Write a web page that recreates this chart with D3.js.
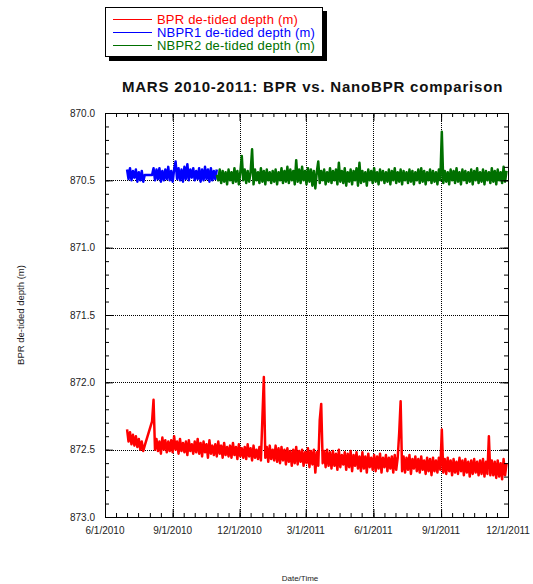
<!DOCTYPE html>
<html>
<head>
<meta charset="utf-8">
<script src="https://cdn.jsdelivr.net/npm/d3@7"></script>
<style>
  html, body { margin: 0; padding: 0; background: #fff; }
  svg { display: block; font-family: "Liberation Sans", Arial, Helvetica, sans-serif; }
</style>
</head>
<body>
<svg id="chart" width="533" height="584"></svg>
<script>
// ---- data -------------------------------------------------------------
const chartTitle = "MARS 2010-2011: BPR vs. NanoBPR comparison";
const xAxisTitle = "Date/Time";
const yAxisTitle = "BPR de-tided depth (m)";

const xTickLabels = ["6/1/2010", "9/1/2010", "12/1/2010", "3/1/2011", "6/1/2011", "9/1/2011", "12/1/2011"];
const yTickValues = [870.0, 870.5, 871.0, 871.5, 872.0, 872.5, 873.0];

const seriesNames = ["BPR de-tided depth (m)", "NBPR1 de-tided depth (m)", "NBPR2 de-tided depth (m)"];
const seriesColors = ["#ff0000", "#0000ff", "#007000"];

// readings every two days; null = no recording
const sampleStepDays = 2;

const bprStart = "2010-07-01";
const bprValues = [
  872.35, 872.44, 872.37, 872.46, 872.39, 872.47, 872.40, 872.48, 872.42, 872.50,
  872.44, 872.51, 872.47, null, null, null, null, 872.29, 872.13,
  872.50, 872.42, 872.51, 872.44, 872.53, 872.41, 872.50, 872.43, 872.52, 872.44,
  872.51, 872.43, 872.52, 872.40, 872.50, 872.44, 872.53, 872.42, 872.51, 872.45,
  872.52, 872.44, 872.54, 872.43, 872.51, 872.46, 872.53, 872.44, 872.52, 872.42,
  872.53, 872.45, 872.55, 872.44, 872.52, 872.46, 872.56, 872.43, 872.53, 872.47,
  872.54, 872.46, 872.55, 872.44, 872.53, 872.47, 872.56, 872.45, 872.54, 872.48,
  872.55, 872.47, 872.56, 872.45, 872.54, 872.48, 872.57, 872.46, 872.55, 872.49,
  872.56, 872.48, 872.57, 872.46, 872.55, 872.49, 872.58, 872.47, 872.56, 872.50,
  872.57, 872.48, 872.58, 872.27, 871.96, 872.56, 872.48, 872.59, 872.47, 872.57,
  872.50, 872.58, 872.47, 872.59, 872.49, 872.60, 872.48, 872.58, 872.50, 872.61,
  872.49, 872.59, 872.51, 872.62, 872.50, 872.60, 872.48, 872.61, 872.51, 872.59,
  872.50, 872.62, 872.52, 872.60, 872.49, 872.63, 872.51, 872.61, 872.50, 872.67,
  872.52, 872.62, 872.28, 872.16, 872.60, 872.51, 872.63, 872.50, 872.62, 872.52,
  872.64, 872.51, 872.62, 872.53, 872.65, 872.50, 872.63, 872.54, 872.61, 872.52,
  872.65, 872.53, 872.63, 872.51, 872.66, 872.54, 872.62, 872.52, 872.64, 872.55,
  872.66, 872.52, 872.64, 872.55, 872.67, 872.53, 872.63, 872.56, 872.65, 872.54,
  872.66, 872.55, 872.64, 872.53, 872.67, 872.56, 872.63, 872.54, 872.66, 872.56,
  872.64, 872.55, 872.67, 872.54, 872.65, 872.56, 872.38, 872.14, 872.66, 872.55,
  872.67, 872.56, 872.65, 872.54, 872.68, 872.57, 872.64, 872.55, 872.66, 872.57,
  872.67, 872.55, 872.65, 872.58, 872.68, 872.56, 872.66, 872.57, 872.69, 872.56,
  872.66, 872.58, 872.67, 872.56, 872.65, 872.35, 872.67, 872.57, 872.68, 872.56,
  872.66, 872.58, 872.69, 872.57, 872.67, 872.59, 872.68, 872.56, 872.66, 872.58,
  872.69, 872.57, 872.67, 872.59, 872.70, 872.58, 872.68, 872.57, 872.67, 872.59,
  872.69, 872.58, 872.68, 872.57, 872.70, 872.59, 872.68, 872.40, 872.69, 872.58,
  872.69, 872.59, 872.71, 872.58, 872.70, 872.60, 872.72, 872.57, 872.69, 872.60
];

const nbpr1Start = "2010-07-01";
const nbpr1Values = [
  870.42, 870.49, 870.41, 870.50, 870.43, 870.48, 870.42, 870.51, 870.44, 870.50,
  870.43, 870.51, 870.46, null, null, null, null,
  870.46, 870.41, 870.50, 870.42, 870.49, 870.41, 870.51, 870.43, 870.50, 870.42,
  870.49, 870.40, 870.50, 870.43, 870.51, 870.42, 870.36, 870.49, 870.41, 870.50,
  870.42, 870.51, 870.40, 870.49, 870.38, 870.50, 870.42, 870.48, 870.41, 870.50,
  870.43, 870.49, 870.41, 870.51, 870.42, 870.50, 870.40, 870.49, 870.42, 870.51,
  870.41, 870.50, 870.43, 870.49, 870.42
];

const nbpr2Start = "2010-10-31";
const nbpr2Values = [
  870.46, 870.50, 870.42, 870.52, 870.43, 870.51, 870.44, 870.53, 870.42, 870.50,
  870.44, 870.52, 870.41, 870.51, 870.43, 870.53, 870.44, 870.32, 870.50, 870.42,
  870.52, 870.43, 870.51, 870.44, 870.27, 870.53, 870.42, 870.50, 870.44, 870.52,
  870.41, 870.51, 870.43, 870.53, 870.42, 870.50, 870.44, 870.52, 870.43, 870.51,
  870.42, 870.53, 870.44, 870.50, 870.41, 870.52, 870.43, 870.51, 870.40, 870.52,
  870.42, 870.50, 870.43, 870.53, 870.35, 870.51, 870.42, 870.52, 870.40, 870.50,
  870.43, 870.53, 870.41, 870.51, 870.42, 870.54, 870.43, 870.56, 870.44, 870.36,
  870.52, 870.43, 870.50, 870.42, 870.53, 870.44, 870.51, 870.41, 870.52, 870.43,
  870.50, 870.42, 870.53, 870.37, 870.51, 870.43, 870.52, 870.41, 870.54, 870.44,
  870.51, 870.42, 870.53, 870.43, 870.50, 870.41, 870.54, 870.37, 870.52, 870.43,
  870.51, 870.44, 870.54, 870.42, 870.50, 870.43, 870.52, 870.41, 870.51, 870.44,
  870.53, 870.42, 870.50, 870.43, 870.52, 870.44, 870.51, 870.42, 870.53, 870.43,
  870.50, 870.41, 870.52, 870.44, 870.51, 870.42, 870.53, 870.43, 870.50, 870.44,
  870.52, 870.42, 870.51, 870.43, 870.53, 870.44, 870.50, 870.42, 870.52, 870.41,
  870.51, 870.43, 870.53, 870.44, 870.50, 870.42, 870.52, 870.43, 870.51, 870.44,
  870.53, 870.42, 870.50, 870.14, 870.52, 870.43, 870.51, 870.44, 870.53, 870.42,
  870.50, 870.43, 870.52, 870.41, 870.51, 870.44, 870.53, 870.42, 870.50, 870.43,
  870.52, 870.44, 870.51, 870.42, 870.53, 870.43, 870.50, 870.41, 870.52, 870.44,
  870.51, 870.42, 870.53, 870.43, 870.50, 870.44, 870.52, 870.41, 870.51, 870.43,
  870.53, 870.42, 870.50, 870.44, 870.52, 870.40, 870.51, 870.43
];

// ---- layout -----------------------------------------------------------
const plot = { left: 105, right: 508, top: 113, bottom: 517 };
const parseTick = d3.utcParse("%m/%d/%Y");
const parseDay = d3.utcParse("%Y-%m-%d");

const xDates = xTickLabels.map(parseTick);
const x = d3.scaleUtc()
  .domain([xDates[0], xDates[xDates.length - 1]])
  .range([plot.left, plot.right]);
const y = d3.scaleLinear()
  .domain([yTickValues[0], yTickValues[yTickValues.length - 1]])
  .range([plot.top, plot.bottom]);

const svg = d3.select("#chart");

// dotted grid at the major ticks
const grid = svg.append("g")
  .attr("stroke", "#000")
  .attr("stroke-width", 1)
  .attr("stroke-dasharray", "1,1");
grid.selectAll("line.gx")
  .data(xDates.slice(1, -1))
  .join("line")
  .attr("x1", d => Math.round(x(d)) + 0.5).attr("x2", d => Math.round(x(d)) + 0.5)
  .attr("y1", plot.top).attr("y2", plot.bottom);
grid.selectAll("line.gy")
  .data(yTickValues.slice(1, -1))
  .join("line")
  .attr("y1", d => Math.round(y(d)) + 0.5).attr("y2", d => Math.round(y(d)) + 0.5)
  .attr("x1", plot.left).attr("x2", plot.right);

// series
svg.append("defs").append("clipPath").attr("id", "plotClip")
  .append("rect")
  .attr("x", plot.left).attr("y", plot.top - 1)
  .attr("width", plot.right - plot.left).attr("height", plot.bottom - plot.top + 1);

function readings(start, values) {
  const t0 = parseDay(start);
  return values
    .map((v, i) => ({ t: d3.utcDay.offset(t0, i * sampleStepDays), v }))
    .filter(d => d.v !== null);
}

const line = d3.line().x(d => x(d.t)).y(d => y(d.v));
const series = [
  { data: readings(bprStart, bprValues), color: seriesColors[0] },
  { data: readings(nbpr1Start, nbpr1Values), color: seriesColors[1] },
  { data: readings(nbpr2Start, nbpr2Values), color: seriesColors[2] }
];
svg.append("g").attr("clip-path", "url(#plotClip)")
  .selectAll("path")
  .data(series)
  .join("path")
  .attr("fill", "none")
  .attr("stroke", d => d.color)
  .attr("stroke-width", 2.5)
  .attr("stroke-linejoin", "round")
  .attr("d", d => line(d.data));

// axes frame with inward ticks on all four sides
const minorX = [];
d3.utcMonth.range(xDates[0], xDates[xDates.length - 1]).forEach(m => {
  minorX.push(m, d3.utcDay.offset(m, 15));
});
const minorY = d3.range(yTickValues[0], yTickValues[yTickValues.length - 1] + 1e-9, 0.1);

const axisAnchor = svg.append("g");
const bottomAxis = d3.axisBottom(x).tickValues(minorX).tickSizeInner(-4).tickSizeOuter(0).tickFormat("");
const topAxis = d3.axisTop(x).tickValues(minorX).tickSizeInner(-4).tickSizeOuter(0).tickFormat("");
const leftAxis = d3.axisLeft(y).tickValues(minorY).tickSizeInner(-4).tickSizeOuter(0).tickFormat("");
const rightAxis = d3.axisRight(y).tickValues(minorY).tickSizeInner(-4).tickSizeOuter(0).tickFormat("");
axisAnchor.append("g").attr("transform", `translate(0,${plot.bottom})`).call(bottomAxis);
axisAnchor.append("g").attr("transform", `translate(0,${plot.top})`).call(topAxis);
axisAnchor.append("g").attr("transform", `translate(${plot.left},0)`).call(leftAxis);
axisAnchor.append("g").attr("transform", `translate(${plot.right},0)`).call(rightAxis);

// longer ticks at the labelled positions
const majorLeft = d3.axisLeft(y).tickValues(yTickValues).tickSizeInner(-8).tickSizeOuter(0).tickFormat("");
const majorRight = d3.axisRight(y).tickValues(yTickValues).tickSizeInner(-8).tickSizeOuter(0).tickFormat("");
const majorBottom = d3.axisBottom(x).tickValues(xDates).tickSizeInner(-8).tickSizeOuter(0).tickFormat("");
const majorTop = d3.axisTop(x).tickValues(xDates).tickSizeInner(-8).tickSizeOuter(0).tickFormat("");
axisAnchor.append("g").attr("transform", `translate(${plot.left},0)`).call(majorLeft);
axisAnchor.append("g").attr("transform", `translate(${plot.right},0)`).call(majorRight);
axisAnchor.append("g").attr("transform", `translate(0,${plot.bottom})`).call(majorBottom);
axisAnchor.append("g").attr("transform", `translate(0,${plot.top})`).call(majorTop);
axisAnchor.selectAll(".domain").remove();
axisAnchor.selectAll("line").attr("stroke", "#000");

svg.append("rect")
  .attr("x", plot.left + 0.5).attr("y", plot.top + 0.5)
  .attr("width", plot.right - plot.left).attr("height", plot.bottom - plot.top)
  .attr("fill", "none").attr("stroke", "#000").attr("stroke-width", 1);

// tick labels
const fmtY = d3.format(".1f");
svg.append("g").selectAll("text")
  .data(yTickValues)
  .join("text")
  .attr("x", 95).attr("y", d => y(d) + 3.5)
  .attr("text-anchor", "end")
  .attr("font-size", 10)
  .attr("fill", "#222")
  .text(fmtY);

svg.append("g").selectAll("text")
  .data(xDates)
  .join("text")
  .attr("x", d => x(d)).attr("y", 534)
  .attr("text-anchor", "middle")
  .attr("font-size", 10)
  .attr("fill", "#222")
  .text((d, i) => xTickLabels[i]);

// axis titles
svg.append("text")
  .attr("x", 300).attr("y", 581)
  .attr("text-anchor", "middle")
  .attr("font-size", 8)
  .attr("fill", "#222")
  .text(xAxisTitle);

svg.append("text")
  .attr("transform", `translate(24,${(plot.top + plot.bottom) / 2}) rotate(-90)`)
  .attr("text-anchor", "middle")
  .attr("font-size", 9.5)
  .attr("fill", "#222")
  .text(yAxisTitle);

// title
svg.append("text")
  .attr("x", 312.5).attr("y", 92)
  .attr("text-anchor", "middle")
  .attr("font-size", 15)
  .attr("font-weight", "bold")
  .attr("letter-spacing", 0.8)
  .attr("fill", "#111")
  .text(chartTitle);

// legend with drop shadow
const legend = svg.append("g");
legend.append("rect").attr("x", 109).attr("y", 11).attr("width", 218).attr("height", 50).attr("fill", "#000");
legend.append("rect").attr("x", 105.5).attr("y", 7.5).attr("width", 217).attr("height", 49)
  .attr("fill", "#fff").attr("stroke", "#000").attr("stroke-width", 1);
const rows = legend.selectAll("g.row")
  .data(seriesNames)
  .join("g")
  .attr("transform", (d, i) => `translate(0,${19.5 + i * 13})`);
rows.append("line")
  .attr("x1", 113).attr("x2", 152).attr("y1", 0).attr("y2", 0)
  .attr("stroke", (d, i) => seriesColors[i]).attr("stroke-width", 1);
rows.append("text")
  .attr("x", 157).attr("y", 4.5)
  .attr("font-size", 13)
  .attr("letter-spacing", 0.2)
  .attr("fill", (d, i) => seriesColors[i])
  .text(d => d);
</script>
</body>
</html>
